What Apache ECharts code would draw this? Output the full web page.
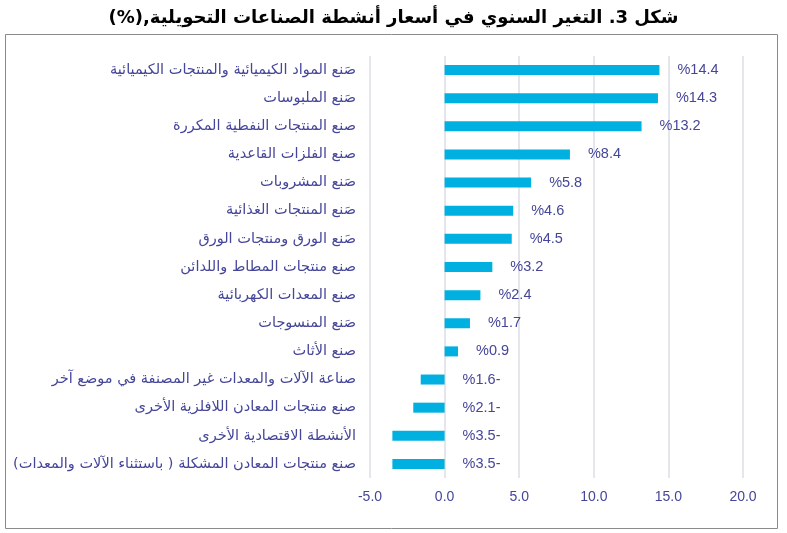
<!DOCTYPE html>
<html>
<head>
<meta charset="utf-8">
<script src="https://cdn.jsdelivr.net/npm/echarts@6/dist/echarts.min.js"></script>
<style>
    html, body {margin: 0; padding: 0; background: #ffffff;}
</style>
</head>
<body>
<div id="main" style="width: 787px;height:533px;"></div>
<script>
    var titleText = 'شكل 3. التغير السنوي في أسعار أنشطة الصناعات التحويلية,(%)';
    var categories = [
        'صَنع المواد الكيميائية والمنتجات الكيميائية',
        'صَنع الملبوسات',
        'صنع المنتجات النفطية المكررة',
        'صنع الفلزات القاعدية',
        'صَنع المشروبات',
        'صَنع المنتجات الغذائية',
        'صَنع الورق ومنتجات الورق',
        'صنع منتجات المطاط واللدائن',
        'صنع المعدات الكهربائية',
        'صَنع المنسوجات',
        'صنع الأثاث',
        'صناعة الآلات والمعدات غير المصنفة في موضع آخر',
        'صنع منتجات المعادن اللافلزية الأخرى',
        'الأنشطة الاقتصادية الأخرى',
        'صنع منتجات المعادن المشكلة ( باستثناء الآلات والمعدات)'
    ];
    var values = [14.4, 14.3, 13.2, 8.4, 5.8, 4.6, 4.5, 3.2, 2.4, 1.7, 0.9, -1.6, -2.1, -3.5, -3.5];
    var axisTicks = [-5, 0, 5, 10, 15, 20];

    var textColor = '#45459a';
    // RTL isolate so Arabic text and brackets come out in the right order
    function rtl(s) {
        return '\u2067' + s + '\u2069';
    }

    var myChart = echarts.init(document.getElementById('main'));

    var option = {
        backgroundColor: '#FFFFFF',
        animation: false,
        title: {
            text: rtl(titleText),
            left: 'center',
            top: 4,
            textStyle: {
                color: '#000000',
                fontSize: 18,
                fontWeight: 'bold',
                fontFamily: 'DejaVu Sans'
            }
        },
        graphic: [{
            type: 'rect',
            shape: {x: 5.5, y: 34.5, width: 772, height: 494},
            style: {fill: 'none', stroke: '#8a8a8a', lineWidth: 1},
            silent: true
        }],
        grid: {
            left: 370,
            right: 44,
            top: 56,
            bottom: 55
        },
        xAxis: {
            type: 'value',
            min: axisTicks[0],
            max: axisTicks[axisTicks.length - 1],
            interval: 5,
            axisLine: {show: false},
            axisTick: {show: false},
            axisLabel: {
                color: textColor,
                fontSize: 14,
                margin: 12,
                formatter: function (v) {
                    return v.toFixed(1);
                }
            },
            splitLine: {
                show: true,
                lineStyle: {color: '#dcdce8', width: 1.5}
            }
        },
        yAxis: {
            type: 'category',
            inverse: true,
            data: categories,
            axisLine: {show: false},
            axisTick: {show: false},
            axisLabel: {
                color: textColor,
                fontSize: 14.5,
                margin: 14,
                fontFamily: 'DejaVu Sans',
                formatter: function (v) {
                    return rtl(v);
                }
            }
        },
        series: [{
            type: 'bar',
            data: values,
            barWidth: 10,
            itemStyle: {color: '#00b0e0'},
            label: {
                show: true,
                position: 'right',
                distance: 18,
                color: textColor,
                fontSize: 14.5,
                formatter: function (p) {
                    var v = p.value;
                    return v < 0 ? '%' + Math.abs(v).toFixed(1) + '-' : '%' + v.toFixed(1);
                }
            }
        }]
    };

    myChart.setOption(option);
</script>
</body>
</html>
